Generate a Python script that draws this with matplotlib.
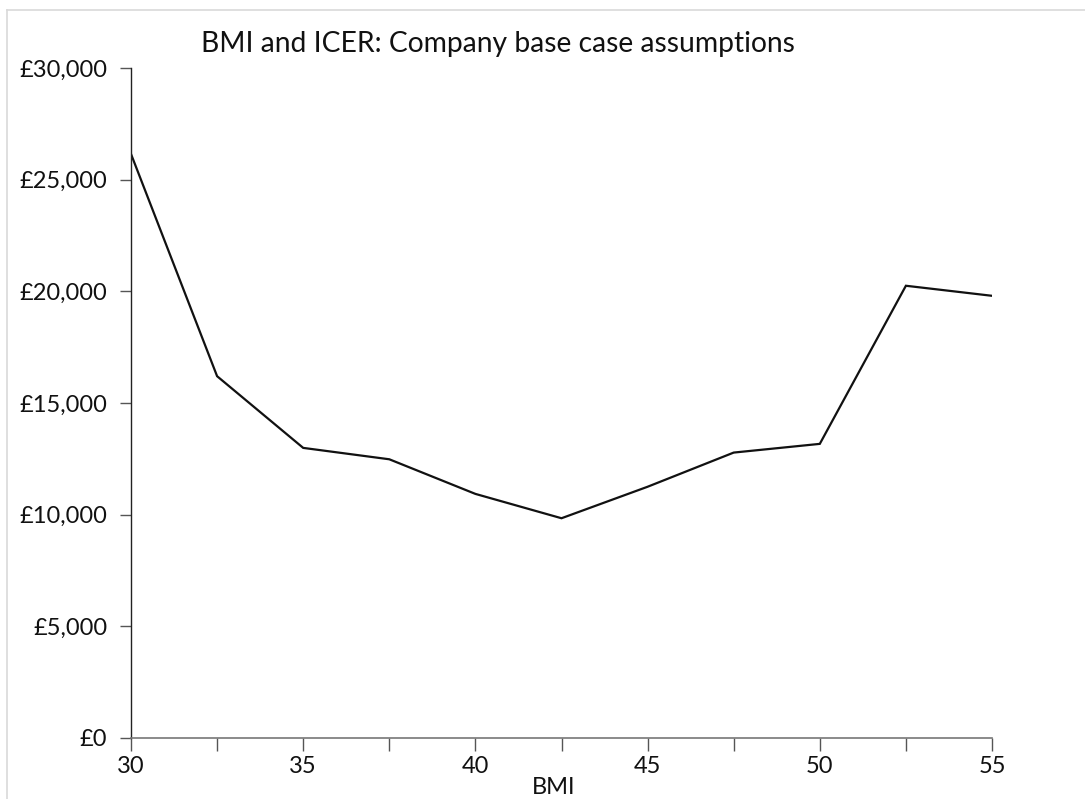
import matplotlib
matplotlib.use("Agg")
import matplotlib.pyplot as plt
from matplotlib.ticker import FuncFormatter, MultipleLocator
from matplotlib.lines import Line2D

# BMI values and the corresponding ICER (GBP per QALY)
bmi = [30, 32.5, 35, 37.5, 40, 42.5, 45, 47.5, 50, 52.5, 55]
icer = [26150, 16200, 12990, 12480, 10930, 9840, 11250, 12780, 13170, 20250, 19800]

x_ticks = [30, 35, 40, 45, 50, 55]
y_ticks = [0, 5000, 10000, 15000, 20000, 25000, 30000]

title = "BMI and ICER: Company base case assumptions"
x_label = "BMI"

plt.rcParams["font.family"] = ["Lato", "DejaVu Sans"]

W, H = 1085, 799
fig = plt.figure(figsize=(W / 100, H / 100), dpi=100)
ax = fig.add_axes([131 / W, 1 - 738 / H, (992 - 131) / W, (738 - 68) / H])

ax.plot(bmi, icer, color="#111111", lw=1.6, solid_joinstyle="miter")

ax.set_xlim(30, 55)
ax.set_ylim(0, 30000)
ax.set_xticks(x_ticks)
ax.xaxis.set_minor_locator(MultipleLocator(2.5))
ax.set_yticks(y_ticks)
ax.yaxis.set_major_formatter(FuncFormatter(lambda v, p: "£{:,.0f}".format(v)))

for s in ("top", "right"):
    ax.spines[s].set_visible(False)
ax.spines["left"].set_color("#222222")
ax.spines["left"].set_linewidth(1.0)
ax.spines["bottom"].set_color("#777777")
ax.spines["bottom"].set_linewidth(1.2)

ax.tick_params(axis="x", which="both", direction="out", length=9, width=1.0,
               color="#555555", labelsize=17, pad=4, labelcolor="#111111")
ax.tick_params(axis="y", direction="out", length=8, width=1.0,
               color="#555555", labelsize=17, pad=9, labelcolor="#111111")

fig.text(498 / W, 1 - 44 / H, title, ha="center", va="center",
         fontsize=20.3, color="#111111")
fig.text(554 / W, 1 - 787 / H, x_label, ha="center", va="center",
         fontsize=17, color="#111111")

# thin grey frame around the chart area
frame_kw = dict(color="#d9d9d9", lw=1.2, transform=fig.transFigure)
fig.add_artist(Line2D([7 / W, 7 / W], [0, 1 - 10 / H], **frame_kw))
fig.add_artist(Line2D([7 / W, 1], [1 - 10 / H, 1 - 10 / H], **frame_kw))

fig.savefig("out.png", dpi=100, facecolor="white")
